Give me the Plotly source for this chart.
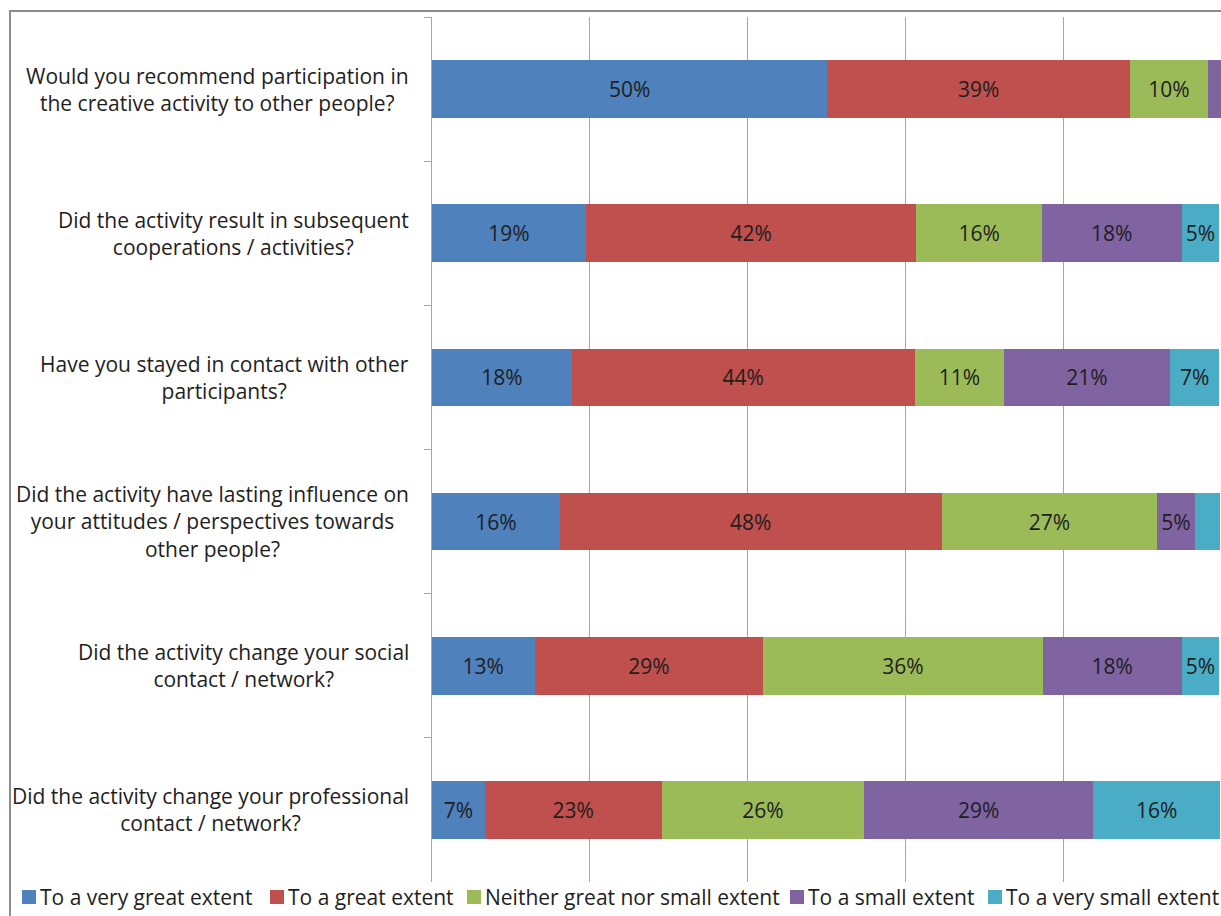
import plotly.graph_objects as go

# ---------------- data ----------------
questions = [
    "Would you recommend participation in<br>the creative activity to other people?",
    "Did the activity result in subsequent<br>cooperations / activities?",
    "Have you stayed in contact with other<br>participants?",
    "Did the activity have lasting influence on<br>your attitudes / perspectives towards<br>other people?",
    "Did the activity change your social<br>contact / network?",
    "Did the activity change your professional<br>contact / network?",
]
series_names = [
    "To a very great extent",
    "To a great extent",
    "Neither great nor small extent",
    "To a small extent",
    "To a very small extent",
]
very_great = [50.1, 19.5, 17.7, 16.2, 13.0, 6.7]
great = [38.4, 41.9, 43.5, 48.4, 29.0, 22.4]
neither = [9.8, 15.9, 11.3, 27.3, 35.4, 25.7]
small = [1.7, 17.7, 21.0, 4.8, 17.6, 29.0]
very_small = [0.0, 4.8, 6.3, 3.2, 4.8, 16.1]

lbl_very_great = ["50%", "19%", "18%", "16%", "13%", "7%"]
lbl_great = ["39%", "42%", "44%", "48%", "29%", "23%"]
lbl_neither = ["10%", "16%", "11%", "27%", "36%", "26%"]
lbl_small = ["", "18%", "21%", "5%", "18%", "29%"]
lbl_very_small = ["", "5%", "7%", "", "5%", "16%"]

x_ticks = [0, 20, 40, 60, 80, 100]

colors = ["#4F81BD", "#C0504D", "#9BBB59", "#8064A2", "#4BACC6"]
values = [very_great, great, neither, small, very_small]
labels = [lbl_very_great, lbl_great, lbl_neither, lbl_small, lbl_very_small]

# ---------------- layout geometry ----------------
W, H = 1221, 916
L, R, T, B = 432, 0, 17, 34
PW, PH = W - L - R, H - T - B
FONT = "Open Sans"
FS = 21
TXT = "#1e1e1e"
GRID = "#a6a6a6"


def px(xp):
    return (xp - L) / PW


def py(yp):
    return (H - B - yp) / PH


fig = go.Figure()
for name, vals, lbls, col in zip(series_names, values, labels, colors):
    fig.add_trace(go.Bar(
        y=questions, x=vals, name=name, orientation="h",
        marker=dict(color=col, line=dict(width=0)),
        text=lbls, textposition="inside", insidetextanchor="middle",
        textfont=dict(family=FONT, size=FS, color=TXT),
        constraintext="none", showlegend=False,
        hoverinfo="name+x",
    ))

annotations = []
for q in questions:
    annotations.append(dict(
        x=px(411), xref="paper", y=q, yref="y", text=q, showarrow=False,
        xanchor="right", yanchor="middle", align="center",
        font=dict(family=FONT, size=FS, color=TXT),
    ))

# manual legend (one row, below the plot)
legend_left = [22, 270, 467, 790, 988]
shapes = []
for name, col, lx in zip(series_names, colors, legend_left):
    shapes.append(dict(type="rect", xref="paper", yref="paper",
                       x0=px(lx), x1=px(lx + 14), y0=py(904), y1=py(890),
                       fillcolor=col, line=dict(width=0)))
    annotations.append(dict(
        x=px(lx + 16), xref="paper", y=py(897), yref="paper", text=name,
        showarrow=False, xanchor="left", yanchor="middle",
        font=dict(family=FONT, size=FS, color=TXT),
    ))

# outer chart frame
shapes.append(dict(type="rect", xref="paper", yref="paper",
                   x0=px(10), x1=px(W + 20), y0=py(H + 20), y1=py(11),
                   line=dict(color="#8c8c8c", width=2), fillcolor="rgba(0,0,0,0)"))

fig.update_layout(
    width=W, height=H,
    margin=dict(l=L, r=R, t=T, b=B, pad=0),
    barmode="stack", bargap=0.6,
    plot_bgcolor="white", paper_bgcolor="white",
    font=dict(family=FONT, size=FS, color=TXT),
    uniformtext=dict(minsize=FS, mode="show"),
    xaxis=dict(range=[0, 100], tickvals=x_ticks, showticklabels=False,
               showgrid=True, gridcolor=GRID, gridwidth=1, zeroline=False,
               showline=False, ticks=""),
    yaxis=dict(autorange="reversed", showticklabels=False, tickson="boundaries",
               ticks="outside", ticklen=7, tickcolor=GRID, showline=True,
               linecolor=GRID, linewidth=1, showgrid=False, zeroline=False),
    annotations=annotations, shapes=shapes, showlegend=False,
)

fig.write_html("out.html")
